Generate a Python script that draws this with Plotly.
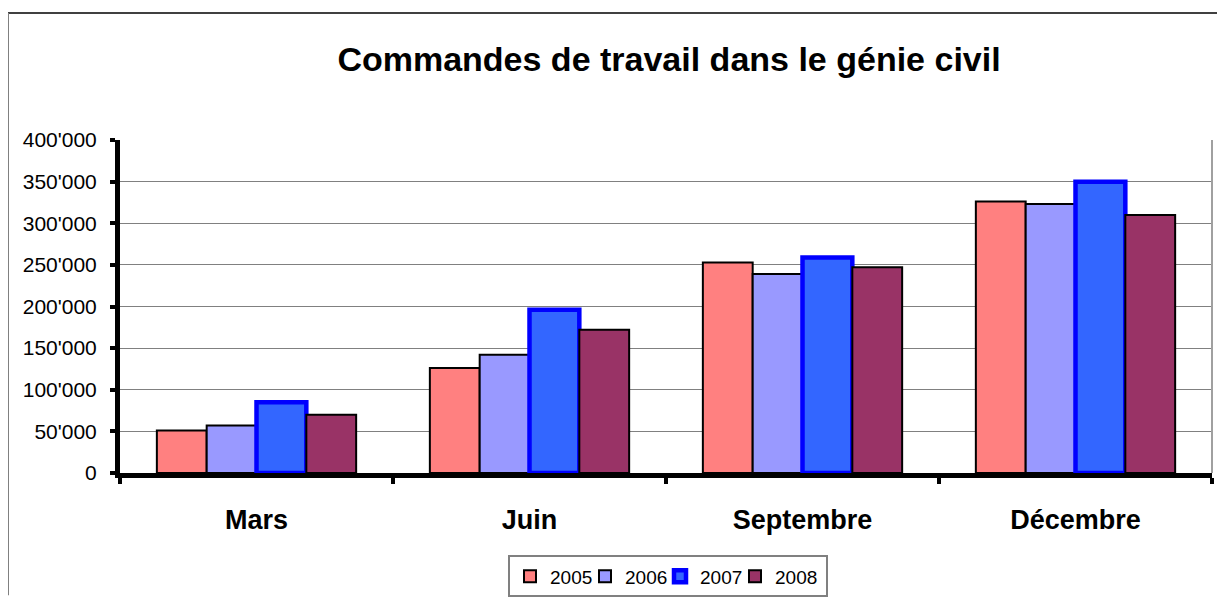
import plotly.graph_objects as go

# Données
mois = ['Mars', 'Juin', 'Septembre', 'Décembre']
annees = ['2005', '2006', '2007', '2008']
valeurs_2005 = [51000, 126000, 253000, 326000]
valeurs_2006 = [57000, 142000, 239000, 323000]
valeurs_2007 = [85000, 196000, 259000, 350000]
valeurs_2008 = [70000, 172000, 247000, 310000]
ticks_y = [0, 50000, 100000, 150000, 200000, 250000, 300000, 350000, 400000]
labels_y = ['0', "50'000", "100'000", "150'000", "200'000", "250'000", "300'000", "350'000", "400'000"]

series = [valeurs_2005, valeurs_2006, valeurs_2007, valeurs_2008]
couleurs = ['#FF8080', '#9999FF', '#3366FF', '#993366']
bordures = [dict(color='black', width=2), dict(color='black', width=2),
            dict(color='#0000FF', width=4.5), dict(color='black', width=2)]
largeurs_legende = [30, 30, 30, 46]

police = 'Liberation Sans, Arial, sans-serif'

# la page html ajoute une marge de 8px autour du graphique :
# on réduit la figure pour que tout tienne dans la fenêtre 1225x610
W, H = 1209, 594
g, d, h, b = 112, 5, 132, 124
larg = W - g - d
haut = H - h - b

fig = go.Figure()
for annee, vals, coul, bord, lw in zip(annees, series, couleurs, bordures, largeurs_legende):
    fig.add_trace(go.Bar(
        x=mois,
        y=vals,
        name=annee,
        legendwidth=lw,
        marker=dict(color=coul, line=bord)
    ))

fig.update_layout(
    width=W,
    height=H,
    margin=dict(l=g, r=d, t=h, b=b),
    paper_bgcolor='white',
    plot_bgcolor='white',
    font=dict(family=police, color='black'),
    barmode='group',
    bargap=0.27,
    bargroupgap=0,
    title=dict(
        text='<b>Commandes de travail dans le génie civil</b>',
        font=dict(size=34, family=police, color='black'),
        x=661 / W, xanchor='center',
        y=1 - 51 / H, yanchor='middle', yref='container'
    ),
    legend=dict(
        orientation='h',
        x=(660 - g) / larg, xanchor='center',
        y=(470 - 575) / haut, yanchor='middle',
        font=dict(size=19, family=police),
        bordercolor='#808080',
        borderwidth=2,
        itemwidth=30,
        entrywidthmode='pixels',
        traceorder='normal'
    ),
    xaxis=dict(
        type='category',
        showline=True,
        linecolor='black',
        linewidth=5,
        ticks='outside',
        tickson='boundaries',
        ticklen=6,
        tickwidth=4,
        tickcolor='black',
        ticklabelstandoff=19,
        tickfont=dict(size=27, family=police, color='black', weight='bold'),
        showgrid=False
    ),
    yaxis=dict(
        range=[0, 400000],
        tickvals=ticks_y,
        ticktext=labels_y,
        showline=True,
        linecolor='black',
        linewidth=5,
        ticks='outside',
        ticklen=5,
        tickwidth=4,
        tickcolor='black',
        ticklabelstandoff=9,
        tickfont=dict(size=21, family=police, color='black'),
        showgrid=True,
        gridcolor='#808080',
        gridwidth=1,
        zeroline=False
    )
)

# bord droit gris de la zone de tracé
fig.add_shape(type='line', xref='paper', yref='paper', x0=1, x1=1, y0=0, y1=1,
              line=dict(color='#A0A0A0', width=2), layer='above')

# cadre extérieur (haut et gauche)
fig.add_shape(type='line', xref='paper', yref='paper',
              x0=(0 - g) / larg, x1=(W - g) / larg,
              y0=(470 - 3) / haut, y1=(470 - 3) / haut,
              line=dict(color='#404040', width=2))
fig.add_shape(type='line', xref='paper', yref='paper',
              x0=(0 - g) / larg, x1=(0 - g) / larg,
              y0=(470 - 3) / haut, y1=(470 - H) / haut,
              line=dict(color='#808080', width=2))

fig.write_html("out.html")
